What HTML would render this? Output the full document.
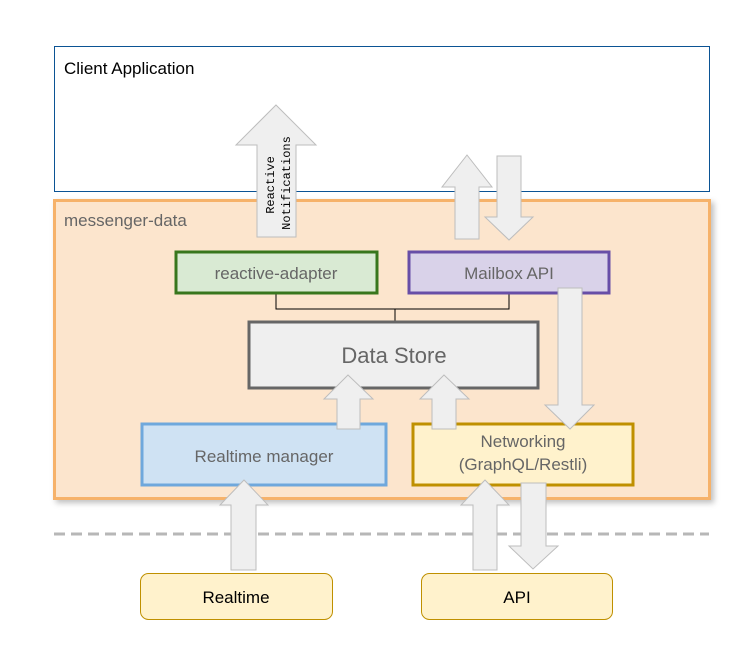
<!DOCTYPE html>
<html><head><meta charset="utf-8"><style>
html,body{margin:0;padding:0;background:#fff;}
svg{display:block;}
text{font-family:"Liberation Sans",sans-serif;}
</style></head><body>
<svg width="749" height="671" viewBox="0 0 749 671" xmlns="http://www.w3.org/2000/svg">
<defs>
<filter id="sh" x="-5%" y="-5%" width="115%" height="115%"><feDropShadow dx="3" dy="3" stdDeviation="3" flood-color="#000" flood-opacity="0.25"/></filter>
</defs>
<rect x="54.5" y="46.5" width="655" height="145" fill="#fff" stroke="#0b5394" stroke-width="1"/>
<text x="64" y="74" font-size="17" fill="#000">Client Application</text>
<rect x="54.5" y="200.5" width="655" height="298" fill="#fce5cd" stroke="#f6b26b" stroke-width="3" filter="url(#sh)"/>
<text x="64" y="226" font-size="17" fill="#666">messenger-data</text>
<line x1="54" y1="534" x2="709" y2="534" stroke="#b7b7b7" stroke-width="3" stroke-dasharray="11,6"/>
<path d="M276 293 V309 H509 V293 M395 309 V321" fill="none" stroke="#000" stroke-width="1"/>
<rect x="176" y="252" width="201" height="41" fill="#d9ead3" stroke="#38761d" stroke-width="3"/>
<text x="276" y="279" font-size="17" fill="#666" text-anchor="middle">reactive-adapter</text>
<rect x="409" y="252" width="200" height="41" fill="#d9d2e9" stroke="#674ea7" stroke-width="3"/>
<text x="509" y="279" font-size="17" fill="#666" text-anchor="middle">Mailbox API</text>
<rect x="249" y="322" width="289" height="66" fill="#efefef" stroke="#666" stroke-width="3"/>
<text x="394" y="363" font-size="22" fill="#666" text-anchor="middle">Data Store</text>
<rect x="142" y="424" width="244" height="61" fill="#cfe2f3" stroke="#6fa8dc" stroke-width="3"/>
<text x="264" y="462" font-size="17" fill="#666" text-anchor="middle">Realtime manager</text>
<rect x="413" y="424" width="220" height="61" fill="#fff2cc" stroke="#bf9000" stroke-width="3"/>
<text x="523" y="447" font-size="17" fill="#666" text-anchor="middle">Networking</text>
<text x="523" y="470" font-size="17" fill="#666" text-anchor="middle">(GraphQL/Restli)</text>
<rect x="140.5" y="573.5" width="192" height="46" rx="8" fill="#fff2cc" stroke="#bf9000"/>
<text x="236" y="603" font-size="17" fill="#000" text-anchor="middle">Realtime</text>
<rect x="421.5" y="573.5" width="191" height="46" rx="8" fill="#fff2cc" stroke="#bf9000"/>
<text x="517" y="603" font-size="17" fill="#000" text-anchor="middle">API</text>
<g fill="#efefef" stroke="#bdbdbd" stroke-width="1">
<polygon points="276,105 316,145 296,145 296,237 257,237 257,145 236,145"/>
<polygon points="467,155 492,187 479,187 479,239 455,239 455,187 442,187"/>
<polygon points="497,156 521,156 521,217 533,217 509,240 485,217 497,217"/>
<polygon points="558,288 582,288 582,405 594,405 570,429 545,405 558,405"/>
<polygon points="348,375 373,399 360,399 360,429 337,429 337,399 324,399"/>
<polygon points="444,375 469,399 456,399 456,429 432,429 432,399 420,399"/>
<polygon points="244,480 268,505 256,505 256,570 231,570 231,505 220,505"/>
<polygon points="485,480 509,505 497,505 497,570 473,570 473,505 461,505"/>
<polygon points="521,483 546,483 546,546 558,546 533,569 509,546 521,546"/>
</g>
<text transform="translate(274,185) rotate(-90)" font-size="12" fill="#000" text-anchor="middle" style="font-family:'Liberation Mono',monospace">Reactive</text>
<text transform="translate(290,183) rotate(-90)" font-size="12" fill="#000" text-anchor="middle" style="font-family:'Liberation Mono',monospace">Notifications</text>
</svg>
</body></html>
